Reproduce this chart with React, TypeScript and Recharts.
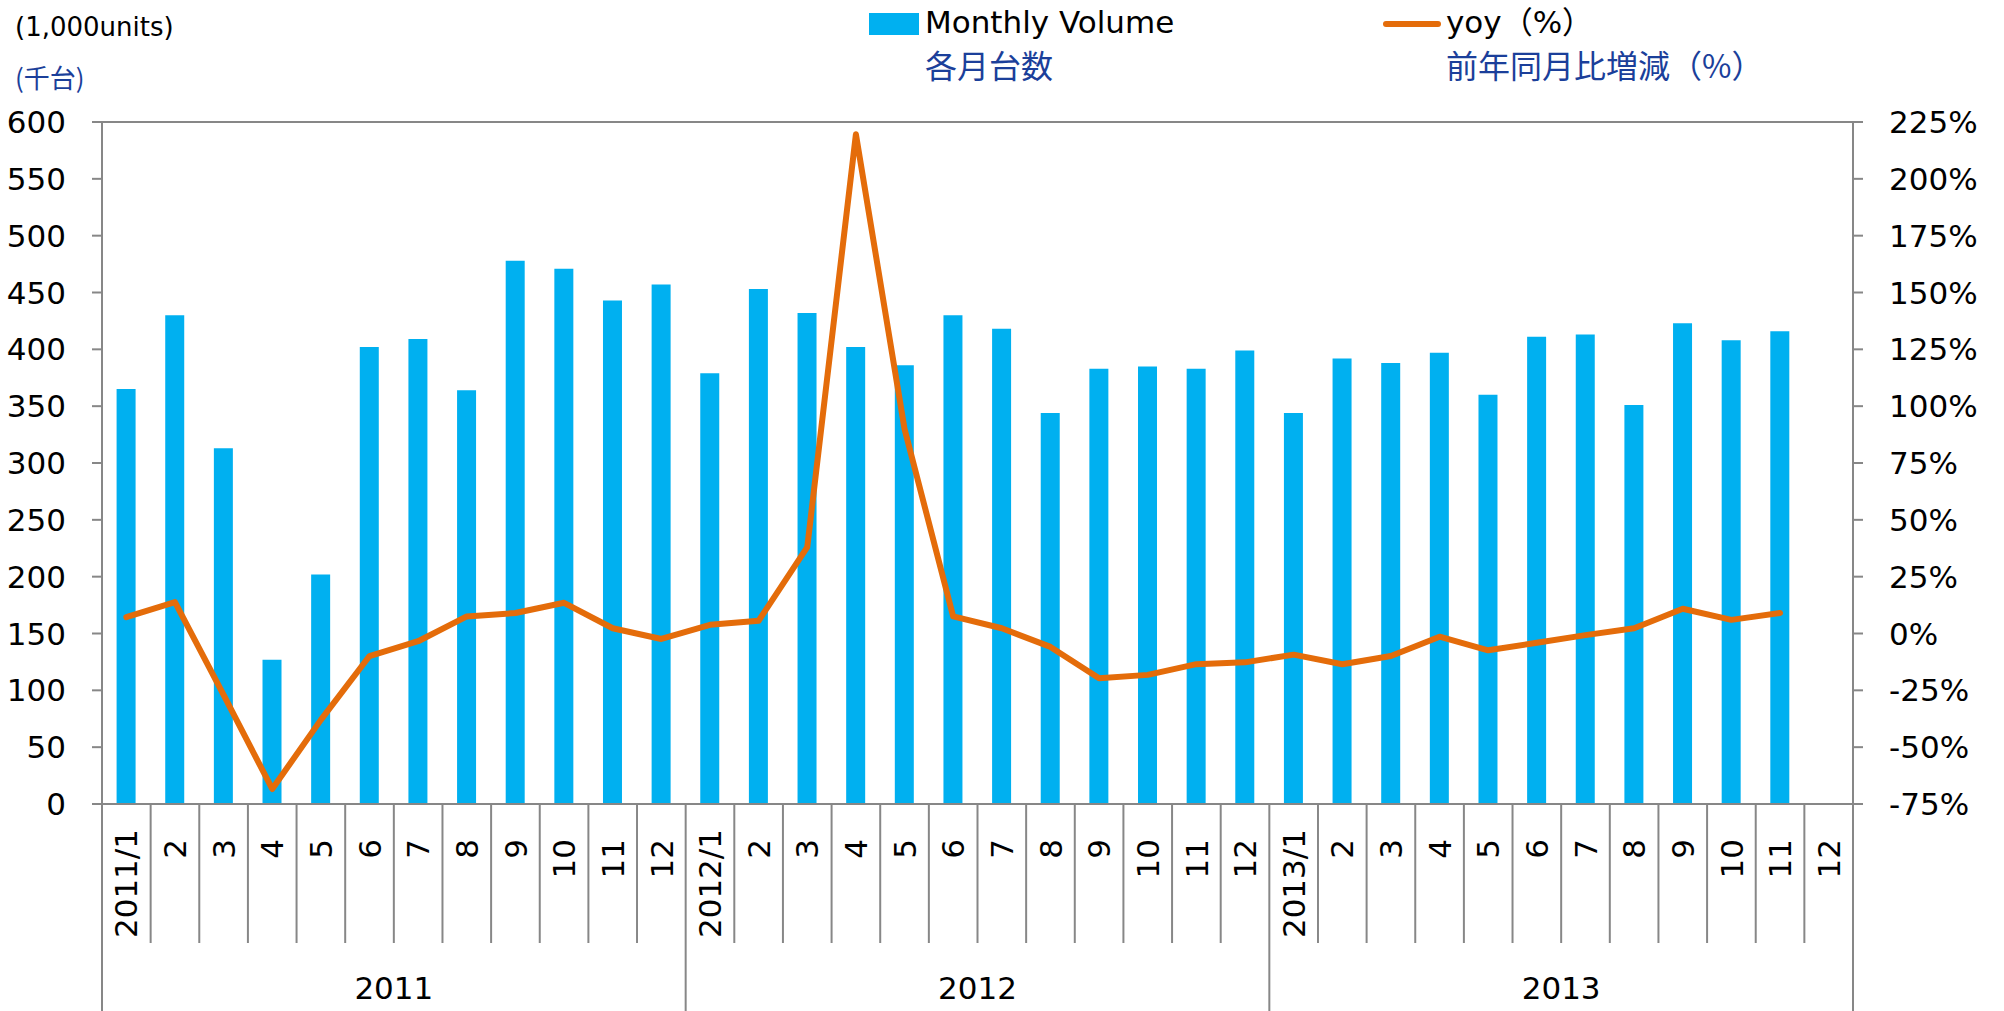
import { ComposedChart, Bar, Line, XAxis, YAxis, CartesianGrid } from "recharts";

const years = ["2011", "2012", "2013"];
const monthLabels = [
  "2011/1", "2", "3", "4", "5", "6", "7", "8", "9", "10", "11", "12",
  "2012/1", "2", "3", "4", "5", "6", "7", "8", "9", "10", "11", "12",
  "2013/1", "2", "3", "4", "5", "6", "7", "8", "9", "10", "11", "12",
];
// monthly volume, 1,000 units
const volume = [
  365, 430, 313, 127, 202, 402, 409, 364, 478, 471, 443, 457,
  379, 453, 432, 402, 386, 430, 418, 344, 383, 385, 383, 399,
  344, 392, 388, 397, 360, 411, 413, 351, 423, 408, 416, null,
];
// yoy change, %
const yoy = [
  7.2, 13.8, -27, -68.4, -38, -9.9, -3.4, 7.5, 9.0, 13.5, 2.3, -2.4,
  3.8, 5.6, 38, 219.6, 90, 7.5, 2.3, -5.9, -19.7, -18.2, -13.5, -12.7,
  -9.3, -13.5, -9.9, -1.4, -7.4, -4.1, -0.7, 2.3, 10.9, 6.0, 9.0, null,
];
const leftTicks = [0, 50, 100, 150, 200, 250, 300, 350, 400, 450, 500, 550, 600];
const rightTicks = [-75, -50, -25, 0, 25, 50, 75, 100, 125, 150, 175, 200, 225];

const data = monthLabels.map((m, i) => ({
  key: String(i),
  label: m,
  volume: volume[i],
  yoy: yoy[i],
}));

const W = 2004;
const H = 1011;
const PLOT_LEFT = 102;
const PLOT_RIGHT = 1853;
const PLOT_TOP = 122;
const PLOT_BOTTOM = 804;
const BAND = (PLOT_RIGHT - PLOT_LEFT) / monthLabels.length;

const GRAY = "#878787";
const BLUE = "#00B0F0";
const ORANGE = "#E46C0A";
const NAVY = "#1B3F9A";
const FONT = "'DejaVu Sans', 'Noto Sans CJK JP', sans-serif";
const CJK = "'Noto Sans CJK JP', 'DejaVu Sans', sans-serif";
const FS = 31;

const MonthTick = (props: any) => {
  const { x, payload } = props;
  const i = payload.index;
  const label = monthLabels[i];
  const left = x - BAND / 2;
  const yEnd = label.length > 2 ? 829 : 839;
  return (
    <g>
      <line x1={left} x2={left} y1={PLOT_BOTTOM} y2={i % 12 === 0 ? H : 943} stroke={GRAY} strokeWidth={2} />
      {i === monthLabels.length - 1 && (
        <line x1={x + BAND / 2} x2={x + BAND / 2} y1={PLOT_BOTTOM} y2={H} stroke={GRAY} strokeWidth={2} />
      )}
      <text
        x={x}
        y={yEnd}
        transform={`rotate(-90, ${x}, ${yEnd})`}
        textAnchor="end"
        dy="0.36em"
        fontSize={FS}
        fontFamily={FONT}
        fill="#000"
      >
        {label}
      </text>
      {i % 12 === 5 && (
        <text
          x={x + BAND / 2}
          y={988}
          textAnchor="middle"
          dy="0.36em"
          fontSize={FS}
          fontFamily={FONT}
          fill="#000"
        >
          {years[Math.floor(i / 12)]}
        </text>
      )}
    </g>
  );
};

export default function App() {
  return (
    <div style={{ position: "absolute", left: 0, top: 0, width: W, height: H, background: "#fff" }}>
      <ComposedChart
        width={W}
        height={H}
        data={data}
        margin={{ top: PLOT_TOP, left: PLOT_LEFT - 90, right: W - PLOT_RIGHT - 120, bottom: 0 }}
        barCategoryGap="30%"
      >
        <CartesianGrid vertical={false} stroke={GRAY} strokeWidth={2} />
        <XAxis
          dataKey="key"
          interval={0}
          height={H - PLOT_BOTTOM}
          tickLine={false}
          axisLine={{ stroke: GRAY, strokeWidth: 2 }}
          tick={(p: any) => <MonthTick {...p} />}
        />
        <YAxis
          yAxisId="left"
          width={90}
          domain={[0, 600]}
          ticks={leftTicks}
          interval={0}
          tickSize={10}
          tickMargin={26}
          tickLine={{ stroke: GRAY, strokeWidth: 2 }}
          axisLine={{ stroke: GRAY, strokeWidth: 2 }}
          tick={{ fill: "#000", fontSize: FS, fontFamily: FONT }}
        />
        <YAxis
          yAxisId="right"
          orientation="right"
          width={120}
          domain={[-75, 225]}
          ticks={rightTicks}
          interval={0}
          tickSize={10}
          tickMargin={26}
          tickLine={{ stroke: GRAY, strokeWidth: 2 }}
          axisLine={{ stroke: GRAY, strokeWidth: 2 }}
          tick={{ fill: "#000", fontSize: FS, fontFamily: FONT }}
          tickFormatter={(v) => `${v}%`}
        />
        <Bar yAxisId="left" dataKey="volume" fill={BLUE} isAnimationActive={false} />
        <Line
          yAxisId="right"
          dataKey="yoy"
          type="linear"
          stroke={ORANGE}
          strokeWidth={6}
          strokeLinejoin="round"
          strokeLinecap="round"
          dot={false}
          activeDot={false}
          isAnimationActive={false}
        />
      </ComposedChart>
      <svg width={W} height={140} style={{ position: "absolute", left: 0, top: 0, pointerEvents: "none" }}>
        <text x={15} y={27} dy="0.36em" fontSize={26} fontFamily={FONT} fill="#000">(1,000units)</text>
        <text x={15} y={79} dy="0.36em" fontSize={26} fontFamily={CJK} fill={NAVY}>(千台)</text>
        <rect x={869} y={13} width={50} height={22} fill={BLUE} />
        <text x={925} y={22} dy="0.36em" fontSize={FS} fontFamily={FONT} fill="#000">Monthly Volume</text>
        <text x={925} y={66} dy="0.36em" fontSize={32} fontFamily={CJK} fill={NAVY}>各月台数</text>
        <line x1={1386} x2={1438} y1={24} y2={24} stroke={ORANGE} strokeWidth={6} strokeLinecap="round" />
        <text x={1446} y={22} dy="0.36em" fontSize={FS} fontFamily={FONT} fill="#000">yoy（%）</text>
        <text x={1446} y={66} dy="0.36em" fontSize={32} fontFamily={CJK} fill={NAVY}>前年同月比増減（%）</text>
      </svg>
    </div>
  );
}
